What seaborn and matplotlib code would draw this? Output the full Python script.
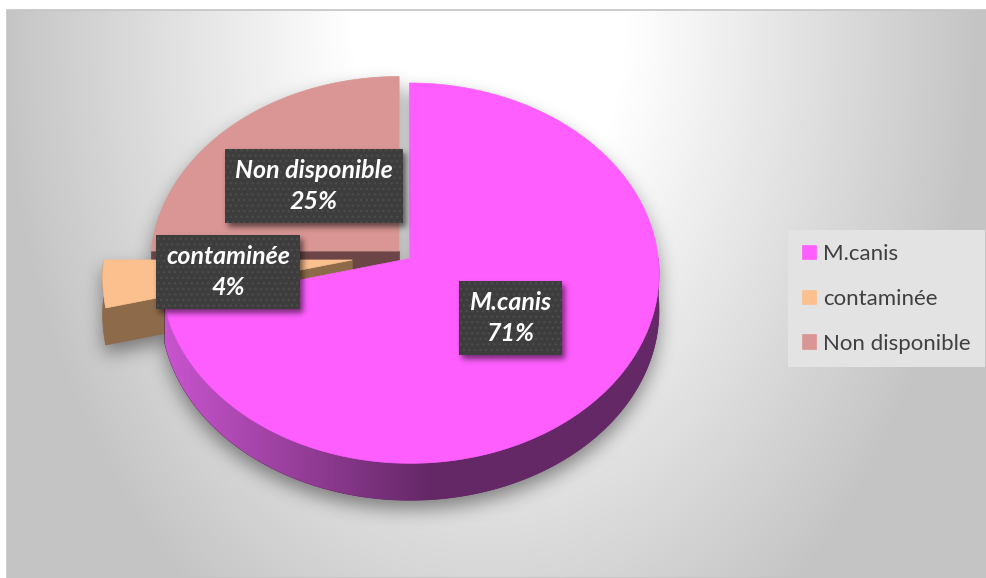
import numpy as np
import pandas as pd
import seaborn as sns
import matplotlib
matplotlib.use("Agg")
import matplotlib.pyplot as plt
from matplotlib.patches import Polygon, Rectangle
from matplotlib.path import Path

# ---- data -------------------------------------------------------------
categories = ["M.canis", "contaminée", "Non disponible"]
shares = [71, 4, 25]                      # percent of samples
top_colors = ["#FF5EFF", "#FBC08E", "#D99694"]
side_colors = ["#662A66", "#8C6A4A", "#6C4646"]
explode = [0.03, 0.21, 0.03]

df = pd.DataFrame({"category": categories, "share": shares,
                   "top": top_colors, "side": side_colors, "explode": explode})

sns.set_theme(style="white")
plt.rcParams["font.family"] = ["Lato", "DejaVu Sans"]

W, H = 987, 578
fig = plt.figure(figsize=(W / 100, H / 100), dpi=100)
ax = fig.add_axes([0, 0, 1, 1])
ax.set_xlim(0, W)
ax.set_ylim(H, 0)
ax.axis("off")

# ---- background: soft radial gradient inside the chart area -------------
yy, xx = np.mgrid[0:H, 0:W] + 0.5
d = np.sqrt(((xx - 490) / 490) ** 2 + ((yy - 30) / 715) ** 2)
f = np.clip((d - 0.28) / 0.72, 0, 1)
g = (255 - (255 - 196) * f) / 255
bg = np.dstack([g, g, g])
bg[(xx < 7) | (yy < 10)] = 1.0
ax.imshow(bg, extent=(0, W, H, 0), aspect="auto", interpolation="bilinear", zorder=0)
ax.add_patch(Rectangle((7, 10), W - 7, H - 10, fill=False, ec="#C4C4C4", lw=1.2, zorder=0.5))

# ---- tilted pie geometry ----------------------------------------------
CX, CY, RX, RY, K, DEPTH = 404, 255, 248, 188.5, 0.077, 37


def project(u, v, drop=0.0):
    u = np.asarray(u, float)
    v = np.asarray(v, float)
    w = 1 + K * v
    return np.column_stack([CX + RX * u / w, CY - RY * v / w + drop])


frac = df["share"].to_numpy() / df["share"].sum()
ends = 90 - 360 * np.cumsum(frac)
starts = ends + 360 * frac
df["start"], df["end"] = starts, ends
df["mid"] = (starts + ends) / 2
df["depth_order"] = np.sin(np.radians(df["mid"]))

faces = []
label_pos = []
for i, row in df.iterrows():
    m = np.radians(row["mid"])
    ou, ov = row["explode"] * np.cos(m), row["explode"] * np.sin(m)
    th = np.radians(np.linspace(row["end"], row["start"], 240))
    au, av = ou + np.cos(th), ov + np.sin(th)
    top = np.vstack([project([ou], [ov]), project(au, av)])
    side_polys = []
    # outer rim pieces facing the viewer
    for mm in (-1, 0, 1):
        lo = max(row["end"], -180 + 360 * mm)
        hi = min(row["start"], 360 * mm)
        if hi - lo > 0.5:
            t = np.radians(np.linspace(lo, hi, 200))
            ru, rv = ou + np.cos(t), ov + np.sin(t)
            side_polys.append(("rim", np.vstack([project(ru, rv), project(ru, rv, DEPTH)[::-1]])))
    # radial cut faces facing the viewer
    for ang, vis in ((row["end"], np.cos(np.radians(row["end"])) > 1e-6),
                     (row["start"], np.cos(np.radians(row["start"])) < -1e-6)):
        if vis:
            a = np.radians(ang)
            fu = [ou, ou + np.cos(a)]
            fv = [ov, ov + np.sin(a)]
            side_polys.append(("cut", np.vstack([project(fu, fv), project(fu, fv, DEPTH)[::-1]])))
    faces.append((i, top, side_polys))
    lu = ou + 0.5 * np.cos(m)
    lv = ov + 0.5 * np.sin(m)
    label_pos.append(project([lu], [lv])[0])

order = np.argsort(-df["depth_order"].to_numpy())

# ---- blurred drop shadow under the pie ----------------------------------
def blur(img, sigma):
    r = int(3 * sigma)
    x = np.arange(-r, r + 1)
    k = np.exp(-x ** 2 / (2 * sigma ** 2))
    k /= k.sum()
    img = np.apply_along_axis(lambda c: np.convolve(c, k, mode="same"), 0, img)
    img = np.apply_along_axis(lambda c: np.convolve(c, k, mode="same"), 1, img)
    return img


pts = np.column_stack([xx.ravel(), yy.ravel()])
mask = np.zeros(H * W, bool)
for i, top, sides in faces:
    for poly in [top] + [p for _, p in sides]:
        mask |= Path(poly + np.array([0, 9])).contains_points(pts)
sh = blur(mask.reshape(H, W).astype(float), 9)
shadow = np.zeros((H, W, 4))
shadow[..., 3] = 0.42 * sh
ax.imshow(shadow, extent=(0, W, H, 0), aspect="auto", zorder=1)

# ---- faces, back to front -----------------------------------------------
handles = {}
z = 2
for idx in order:
    i, top, sides = faces[idx]
    row = df.loc[i]
    for kind, poly in sides:
        p = Polygon(poly, closed=True, fc=row["side"], ec=row["side"], lw=0.5, zorder=z)
        ax.add_patch(p)
        if kind == "rim" and row["category"] == "M.canis":
            # lit from the left: lighter purple fading into the dark side colour
            x0, x1 = poly[:, 0].min(), poly[:, 0].max()
            y0, y1 = poly[:, 1].min(), poly[:, 1].max()
            xs = np.linspace(x0, x1, 400)
            tt = np.clip((xs - 165) / (430 - 165), 0, 1)
            c0 = np.array([0xC8, 0x54, 0xCE]) / 255
            c1 = np.array([0x64, 0x28, 0x66]) / 255
            grad = (c0[None, :] * (1 - tt[:, None]) + c1[None, :] * tt[:, None])[None, :, :]
            im = ax.imshow(grad, extent=(x0, x1, y1, y0), aspect="auto", zorder=z + 0.1,
                           interpolation="bilinear")
            im.set_clip_path(p)
        z += 0.2
    tp = Polygon(top, closed=True, fc=row["top"], ec=row["top"], lw=0.5, zorder=z, label=row["category"])
    ax.add_patch(tp)
    handles[i] = tp
    z += 0.2

# ---- data labels --------------------------------------------------------
texts = []
for i, row in df.iterrows():
    x, y = label_pos[i]
    t = ax.text(x, y, f"{row['category']}\n{row['share']}%", ha="center", va="center",
                color="white", fontsize=18, fontweight="bold", fontstyle="italic",
                linespacing=1.42, zorder=20,
                bbox=dict(boxstyle="square,pad=0.4", fc="#3D3D3D", ec="#4B4B4B", lw=0,
                          hatch="..."))
    texts.append(t)

fig.canvas.draw()
renderer = fig.canvas.get_renderer()
bmask = np.zeros((H, W))
for t in texts:
    bb = t.get_bbox_patch().get_window_extent(renderer)
    x0, x1 = bb.x0 + 3, bb.x1 + 3
    y0, y1 = H - bb.y1 + 4, H - bb.y0 + 4
    bmask[(yy > y0) & (yy < y1) & (xx > x0) & (xx < x1)] = 1
bsh = blur(bmask, 3)
bshadow = np.zeros((H, W, 4))
bshadow[..., 3] = 0.55 * bsh
ax.imshow(bshadow, extent=(0, W, H, 0), aspect="auto", zorder=19)

# ---- legend -------------------------------------------------------------
leg = ax.legend([handles[i] for i in df.index], list(df["category"]),
                loc="upper left", bbox_to_anchor=(788 / W, 1 - 230 / H),
                bbox_transform=fig.transFigure, borderaxespad=0, borderpad=0.62,
                fontsize=16, frameon=True, fancybox=False, facecolor="#E3E3E3",
                edgecolor="none", framealpha=1, handlelength=0.64, handleheight=0.64,
                handletextpad=0.32, labelspacing=1.12, labelcolor="#404040")
leg.set_zorder(30)

fig.savefig("out.png", dpi=100)
